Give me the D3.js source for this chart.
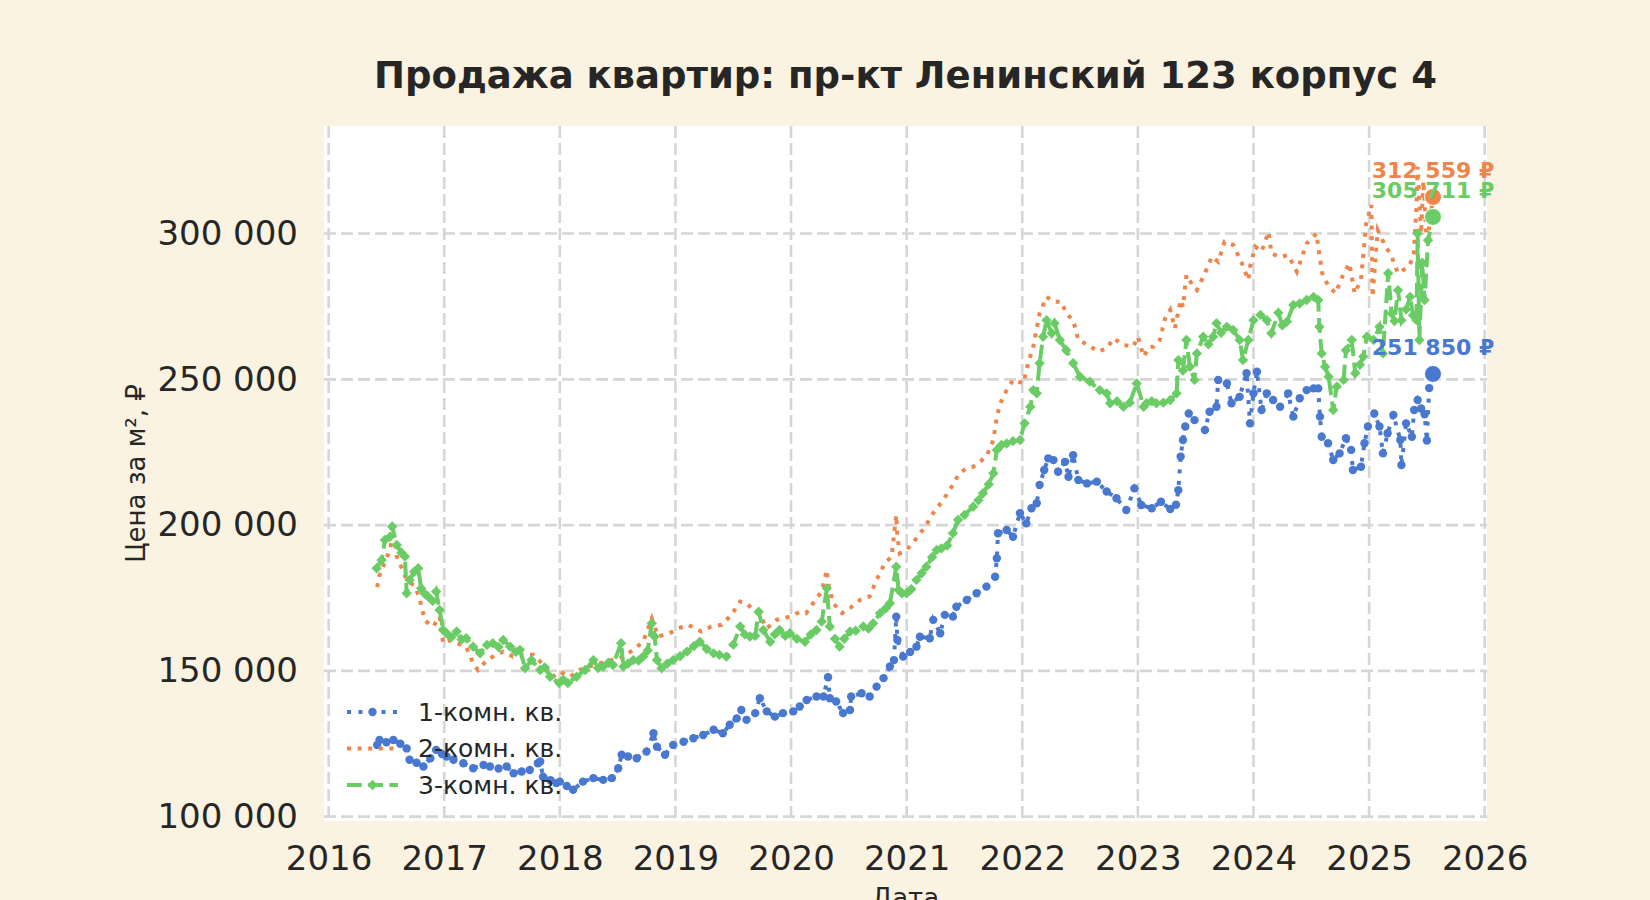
<!DOCTYPE html>
<html>
<head>
<meta charset="utf-8">
<script src="https://cdn.jsdelivr.net/npm/d3@7"></script>
<style>
  body { margin: 0; background: #faf3e1; }
  text { font-family: "DejaVu Sans", sans-serif; fill: #262626; }
</style>
</head>
<body>
<script>
var svgWidth = 1650;
var svgHeight = 900;

// plot area (matches the reference layout)
var plot = { left: 324, right: 1487, top: 126, bottom: 821 };

var title = "Продажа квартир: пр-кт Ленинский 123 корпус 4";
var seriesNames = ["1-комн. кв.", "2-комн. кв.", "3-комн. кв."];
var yTicks = [100000, 150000, 200000, 250000, 300000];
var xTicks = [2016, 2017, 2018, 2019, 2020, 2021, 2022, 2023, 2024, 2025, 2026];

// [decimal year, price per m²]
var room1 = [[2016.42,124600],[2016.44,126300],[2016.50,125500],[2016.56,126300],[2016.62,125000],[2016.675,123400],[2016.70,119500],[2016.76,118500],[2016.82,117200],[2016.88,120000],[2016.93,122900],[2016.98,121500],[2017.02,120600],[2017.08,119500],[2017.165,118300],[2017.25,116600],[2017.34,117700],[2017.395,117200],[2017.47,116500],[2017.54,117200],[2017.60,114900],[2017.67,115500],[2017.74,116000],[2017.81,118300],[2017.83,118900],[2017.855,113700],[2017.92,112500],[2017.97,111500],[2018.00,112000],[2018.06,110500],[2018.115,109200],[2018.20,112000],[2018.29,113200],[2018.375,112600],[2018.45,113200],[2018.505,116600],[2018.535,121200],[2018.59,120600],[2018.665,120000],[2018.75,122300],[2018.81,128600],[2018.84,124000],[2018.91,121200],[2018.98,124600],[2019.07,125700],[2019.155,126900],[2019.24,128000],[2019.33,129800],[2019.41,128600],[2019.47,131500],[2019.53,133700],[2019.57,136600],[2019.615,133200],[2019.69,135500],[2019.73,140600],[2019.79,136100],[2019.86,134300],[2019.93,135500],[2020.02,136100],[2020.075,137800],[2020.135,140000],[2020.22,141200],[2020.28,141200],[2020.32,147800],[2020.335,140600],[2020.39,139500],[2020.45,135500],[2020.51,136600],[2020.52,141200],[2020.61,142300],[2020.68,141200],[2020.74,144600],[2020.80,147500],[2020.855,151500],[2020.89,153700],[2020.91,168600],[2020.92,160600],[2020.97,154900],[2021.03,156500],[2021.085,158300],[2021.115,161700],[2021.20,161200],[2021.23,167500],[2021.29,162900],[2021.33,169200],[2021.40,168600],[2021.43,172000],[2021.52,174300],[2021.605,176600],[2021.69,178900],[2021.765,182300],[2021.78,188600],[2021.79,197200],[2021.865,198300],[2021.92,196000],[2021.98,204100],[2022.035,200600],[2022.08,205800],[2022.125,207500],[2022.15,213800],[2022.19,218900],[2022.225,222900],[2022.27,222300],[2022.31,218300],[2022.37,221700],[2022.40,216600],[2022.44,224000],[2022.485,215500],[2022.56,214300],[2022.645,214900],[2022.73,211500],[2022.815,209200],[2022.90,205200],[2022.97,212600],[2023.03,206900],[2023.12,205800],[2023.20,208000],[2023.28,205500],[2023.33,207000],[2023.35,212000],[2023.37,223500],[2023.39,229200],[2023.41,233800],[2023.44,238300],[2023.49,236000],[2023.58,232600],[2023.62,238900],[2023.68,240600],[2023.695,249800],[2023.77,248600],[2023.81,241800],[2023.88,244000],[2023.94,252100],[2023.97,234900],[2024.00,245200],[2024.03,252600],[2024.07,239500],[2024.115,245200],[2024.17,242900],[2024.23,240600],[2024.30,245200],[2024.345,237200],[2024.40,243500],[2024.46,246300],[2024.52,246900],[2024.56,246900],[2024.575,237200],[2024.59,230300],[2024.645,228100],[2024.69,222300],[2024.745,224600],[2024.80,229800],[2024.845,225800],[2024.86,218900],[2024.93,220000],[2024.96,228100],[2024.99,233800],[2025.045,238300],[2025.09,233800],[2025.12,224600],[2025.16,231500],[2025.21,237800],[2025.27,229200],[2025.28,220600],[2025.32,234900],[2025.37,230300],[2025.39,239500],[2025.42,242900],[2025.45,240000],[2025.48,238000],[2025.50,229000],[2025.52,247000],[2025.553,251850]];

var room2 = [[2016.42,178700],[2016.435,182300],[2016.50,188600],[2016.53,191500],[2016.56,198300],[2016.59,189200],[2016.63,185500],[2016.675,181200],[2016.75,178900],[2016.79,174300],[2016.83,167500],[2016.87,166000],[2016.905,165200],[2016.96,168600],[2016.99,159500],[2017.05,160500],[2017.11,159500],[2017.19,158300],[2017.25,152600],[2017.29,150300],[2017.33,152000],[2017.37,153700],[2017.45,155500],[2017.51,156600],[2017.595,154900],[2017.68,155500],[2017.77,155500],[2017.83,153200],[2017.89,150500],[2017.94,148000],[2018.00,149700],[2018.09,148000],[2018.17,150300],[2018.29,152000],[2018.40,153200],[2018.48,154000],[2018.55,154900],[2018.635,157200],[2018.72,160000],[2018.795,168000],[2018.85,161800],[2018.95,162900],[2019.025,164600],[2019.11,165800],[2019.225,163500],[2019.31,165200],[2019.40,165800],[2019.485,169200],[2019.56,173800],[2019.615,173200],[2019.67,170900],[2019.73,169200],[2019.79,164600],[2019.875,167500],[2019.99,168600],[2020.08,170300],[2020.13,169800],[2020.19,173200],[2020.265,177200],[2020.31,184600],[2020.32,180100],[2020.365,173200],[2020.44,169800],[2020.51,171500],[2020.595,174300],[2020.68,175500],[2020.74,181200],[2020.81,186900],[2020.87,189200],[2020.91,203500],[2020.92,196000],[2020.94,190300],[2021.00,191500],[2021.085,195500],[2021.16,199500],[2021.23,204100],[2021.315,208600],[2021.40,213800],[2021.455,217800],[2021.52,219500],[2021.575,220000],[2021.69,223500],[2021.75,229200],[2021.78,237200],[2021.81,241800],[2021.865,246300],[2021.92,249800],[2022.01,248600],[2022.05,255500],[2022.095,261200],[2022.15,272600],[2022.21,278300],[2022.27,276600],[2022.34,276600],[2022.38,272600],[2022.44,270300],[2022.485,263500],[2022.57,261800],[2022.655,259500],[2022.73,260600],[2022.79,264100],[2022.875,261800],[2022.96,261200],[2023.00,264600],[2023.05,257800],[2023.10,261200],[2023.135,261200],[2023.19,263500],[2023.235,270900],[2023.28,273800],[2023.32,267500],[2023.37,277200],[2023.39,274900],[2023.42,285800],[2023.48,281800],[2023.51,280600],[2023.58,286400],[2023.64,292100],[2023.695,290300],[2023.75,297200],[2023.825,296100],[2023.90,289800],[2023.955,284100],[2023.97,288600],[2024.015,295500],[2024.07,293800],[2024.13,300600],[2024.155,293200],[2024.23,292000],[2024.30,292600],[2024.375,286900],[2024.46,296600],[2024.545,300000],[2024.57,292600],[2024.60,285200],[2024.655,281800],[2024.71,279500],[2024.78,286400],[2024.83,289800],[2024.875,279500],[2024.93,284100],[2024.975,303500],[2025.02,309800],[2025.03,278300],[2025.075,301200],[2025.13,296600],[2025.195,292100],[2025.25,286400],[2025.34,288600],[2025.385,292100],[2025.41,309200],[2025.42,322900],[2025.45,300000],[2025.47,318000],[2025.50,296000],[2025.553,312559]];

var room3 = [[2016.415,185200],[2016.458,188000],[2016.487,194900],[2016.53,196000],[2016.55,199500],[2016.59,193200],[2016.63,190500],[2016.66,189200],[2016.675,176600],[2016.70,181200],[2016.74,184000],[2016.775,185200],[2016.80,178300],[2016.83,176500],[2016.86,175500],[2016.90,174000],[2016.93,177200],[2016.96,170900],[2016.99,164000],[2017.02,162900],[2017.06,161500],[2017.107,163500],[2017.15,160800],[2017.19,161200],[2017.25,158300],[2017.31,156000],[2017.37,158900],[2017.42,159500],[2017.47,158200],[2017.51,160600],[2017.57,158300],[2017.62,156500],[2017.655,157200],[2017.70,150900],[2017.755,153700],[2017.83,150300],[2017.87,151200],[2017.915,148000],[2017.995,145800],[2018.03,147000],[2018.07,145800],[2018.145,148000],[2018.22,150300],[2018.29,153700],[2018.33,151000],[2018.375,151500],[2018.42,152800],[2018.46,152000],[2018.53,159500],[2018.55,151500],[2018.59,152500],[2018.635,153700],[2018.68,153500],[2018.72,154900],[2018.76,157000],[2018.795,166300],[2018.82,161800],[2018.84,153700],[2018.88,150900],[2018.93,152500],[2018.98,153700],[2019.04,155000],[2019.10,156600],[2019.16,158500],[2019.21,160000],[2019.27,157500],[2019.33,156000],[2019.38,155500],[2019.44,154900],[2019.50,159000],[2019.56,165200],[2019.60,162500],[2019.645,161800],[2019.69,162000],[2019.72,170300],[2019.76,164000],[2019.82,160000],[2019.86,162500],[2019.90,164000],[2019.95,162000],[2019.99,162900],[2020.05,161000],[2020.12,160000],[2020.17,162500],[2020.22,164000],[2020.265,166900],[2020.31,178300],[2020.335,165200],[2020.38,161000],[2020.42,158300],[2020.46,161000],[2020.51,163500],[2020.56,163800],[2020.625,165200],[2020.67,164500],[2020.71,166300],[2020.77,169800],[2020.82,171500],[2020.855,173200],[2020.91,185700],[2020.93,177700],[2020.96,176600],[2021.00,176600],[2021.04,178000],[2021.085,181200],[2021.13,183500],[2021.17,185700],[2021.22,189000],[2021.26,191500],[2021.30,192000],[2021.35,193000],[2021.40,197200],[2021.445,201800],[2021.50,203500],[2021.575,206300],[2021.62,208500],[2021.66,210900],[2021.71,214000],[2021.75,217800],[2021.78,225800],[2021.82,227500],[2021.865,228000],[2021.92,228800],[2021.98,229200],[2022.02,234900],[2022.07,240600],[2022.095,246300],[2022.125,245200],[2022.15,255500],[2022.18,264600],[2022.21,270300],[2022.255,265800],[2022.28,269200],[2022.325,263500],[2022.38,260000],[2022.44,255500],[2022.50,250900],[2022.585,249200],[2022.67,246300],[2022.73,245200],[2022.76,241800],[2022.82,242500],[2022.875,240600],[2022.93,242000],[2022.99,248600],[2023.05,240600],[2023.075,241800],[2023.12,242500],[2023.16,241800],[2023.22,242000],[2023.28,242900],[2023.335,245200],[2023.35,256600],[2023.39,253000],[2023.42,263500],[2023.45,254300],[2023.49,249800],[2023.51,258900],[2023.565,264600],[2023.61,262000],[2023.65,264600],[2023.68,269200],[2023.72,266000],[2023.77,268000],[2023.825,266900],[2023.88,263500],[2023.91,256600],[2023.955,263500],[2024.00,270300],[2024.06,272100],[2024.115,270300],[2024.155,265800],[2024.215,272800],[2024.25,268500],[2024.29,269800],[2024.345,275500],[2024.40,276000],[2024.46,277200],[2024.52,278300],[2024.56,277200],[2024.57,268000],[2024.59,258900],[2024.62,254300],[2024.65,250900],[2024.69,239500],[2024.72,247500],[2024.78,249800],[2024.80,260000],[2024.85,263500],[2024.88,252100],[2024.92,255000],[2024.95,257800],[2024.98,264600],[2025.04,263500],[2025.09,268000],[2025.12,258900],[2025.165,286400],[2025.195,272600],[2025.22,270000],[2025.25,280600],[2025.28,270300],[2025.32,274000],[2025.355,278300],[2025.38,272000],[2025.41,270300],[2025.42,300000],[2025.435,263500],[2025.46,290000],[2025.48,277200],[2025.51,297700],[2025.553,305711]];

var colors = ["#4878d0", "#ee854a", "#6acc64"];

var ruLocale = d3.formatLocale({ decimal: ",", thousands: " ", grouping: [3], currency: ["", " ₽"] });
var fmt = ruLocale.format(",d");

var svg = d3.select("body").append("svg")
    .attr("width", svgWidth)
    .attr("height", svgHeight);

svg.append("rect")
    .attr("width", svgWidth).attr("height", svgHeight)
    .attr("fill", "#faf3e1");

svg.append("rect")
    .attr("x", plot.left).attr("y", plot.top)
    .attr("width", plot.right - plot.left)
    .attr("height", plot.bottom - plot.top)
    .attr("fill", "#ffffff");

var xScale = d3.scaleLinear()
    .domain([2015.96, 2026.02])
    .range([plot.left, plot.right]);

var yScale = d3.scaleLinear()
    .domain([98500, 336900])
    .range([plot.bottom, plot.top]);

// grid
var grid = svg.append("g")
    .attr("stroke", "#d6d6d6")
    .attr("stroke-width", 2.6)
    .attr("stroke-dasharray", "12,5");

grid.selectAll(".vgrid")
    .data(xTicks).enter().append("line")
    .attr("x1", d => xScale(d)).attr("x2", d => xScale(d))
    .attr("y1", plot.top).attr("y2", plot.bottom);

grid.selectAll(".hgrid")
    .data(yTicks).enter().append("line")
    .attr("x1", plot.left).attr("x2", plot.right)
    .attr("y1", d => yScale(d)).attr("y2", d => yScale(d));

// axes
var xAxis = svg.append("g")
    .attr("transform", "translate(0," + plot.bottom + ")")
    .call(d3.axisBottom(xScale).tickValues(xTicks).tickFormat(d3.format("d")).tickSize(0).tickPadding(25));

var yAxis = svg.append("g")
    .attr("transform", "translate(" + plot.left + ",0)")
    .call(d3.axisLeft(yScale).tickValues(yTicks).tickFormat(fmt).tickSize(0).tickPadding(26));

[xAxis, yAxis].forEach(function(a) {
    a.select(".domain").remove();
    a.selectAll("text")
        .attr("font-family", "DejaVu Sans")
        .attr("font-size", 34)
        .attr("fill", "#262626");
});

// title and axis labels
svg.append("text")
    .attr("x", (plot.left + plot.right) / 2)
    .attr("y", 88)
    .attr("text-anchor", "middle")
    .attr("font-size", 37)
    .attr("font-weight", "bold")
    .text(title);

svg.append("text")
    .attr("transform", "translate(145," + ((plot.top + plot.bottom) / 2) + ") rotate(-90)")
    .attr("text-anchor", "middle")
    .attr("font-size", 26)
    .text("Цена за м², ₽");

svg.append("text")
    .attr("x", (plot.left + plot.right) / 2)
    .attr("y", 907)
    .attr("text-anchor", "middle")
    .attr("font-size", 26)
    .text("Дата");

// series
var line = d3.line()
    .x(d => xScale(d[0]))
    .y(d => yScale(d[1]));

var diamond = "M0,-5.2L5.2,0L0,5.2L-5.2,0Z";

var styles = [
    { data: room1, dash: "4,7.5", width: 4, marker: "circle" },
    { data: room2, dash: "4,6.6", width: 4, marker: null },
    { data: room3, dash: "14.8,6.4", width: 4, marker: "diamond" }
];

styles.forEach(function(s, i) {
    var g = svg.append("g");
    g.append("path")
        .datum(s.data)
        .attr("d", line)
        .attr("fill", "none")
        .attr("stroke", colors[i])
        .attr("stroke-width", s.width)
        .attr("stroke-dasharray", s.dash);

    if (s.marker === "circle") {
        g.selectAll("circle")
            .data(s.data).enter().append("circle")
            .attr("cx", d => xScale(d[0]))
            .attr("cy", d => yScale(d[1]))
            .attr("r", 4.2)
            .attr("fill", colors[i]);
    } else if (s.marker === "diamond") {
        g.selectAll(".mk")
            .data(s.data).enter().append("path")
            .attr("d", diamond)
            .attr("transform", d => "translate(" + xScale(d[0]) + "," + yScale(d[1]) + ")")
            .attr("fill", colors[i]);
    }
});

// last points with labels
styles.forEach(function(s, i) {
    var last = s.data[s.data.length - 1];
    var cx = xScale(last[0]), cy = yScale(last[1]);
    svg.append("circle")
        .attr("cx", cx).attr("cy", cy)
        .attr("r", 8.5)
        .attr("fill", colors[i])
        .attr("stroke", "#ffffff")
        .attr("stroke-width", 1);
    svg.append("text")
        .attr("x", cx)
        .attr("y", cy - 19)
        .attr("text-anchor", "middle")
        .attr("font-size", 22)
        .attr("font-weight", "bold")
        .style("fill", colors[i])
        .text(fmt(last[1]) + " ₽");
});

// legend
var legend = svg.append("g").attr("transform", "translate(347,712)");
styles.forEach(function(s, i) {
    var row = legend.append("g").attr("transform", "translate(0," + (i * 36.5) + ")");
    row.append("line")
        .attr("x1", 0).attr("x2", 51)
        .attr("stroke", colors[i])
        .attr("stroke-width", s.width)
        .attr("stroke-dasharray", s.dash);
    if (s.marker === "circle") {
        row.append("circle").attr("cx", 25.5).attr("r", 4.2).attr("fill", colors[i]);
    } else if (s.marker === "diamond") {
        row.append("path").attr("d", diamond).attr("transform", "translate(25.5,0)").attr("fill", colors[i]);
    }
    row.append("text")
        .attr("x", 71)
        .attr("dy", "0.35em")
        .attr("font-size", 25)
        .text(seriesNames[i]);
});
</script>
</body>
</html>
